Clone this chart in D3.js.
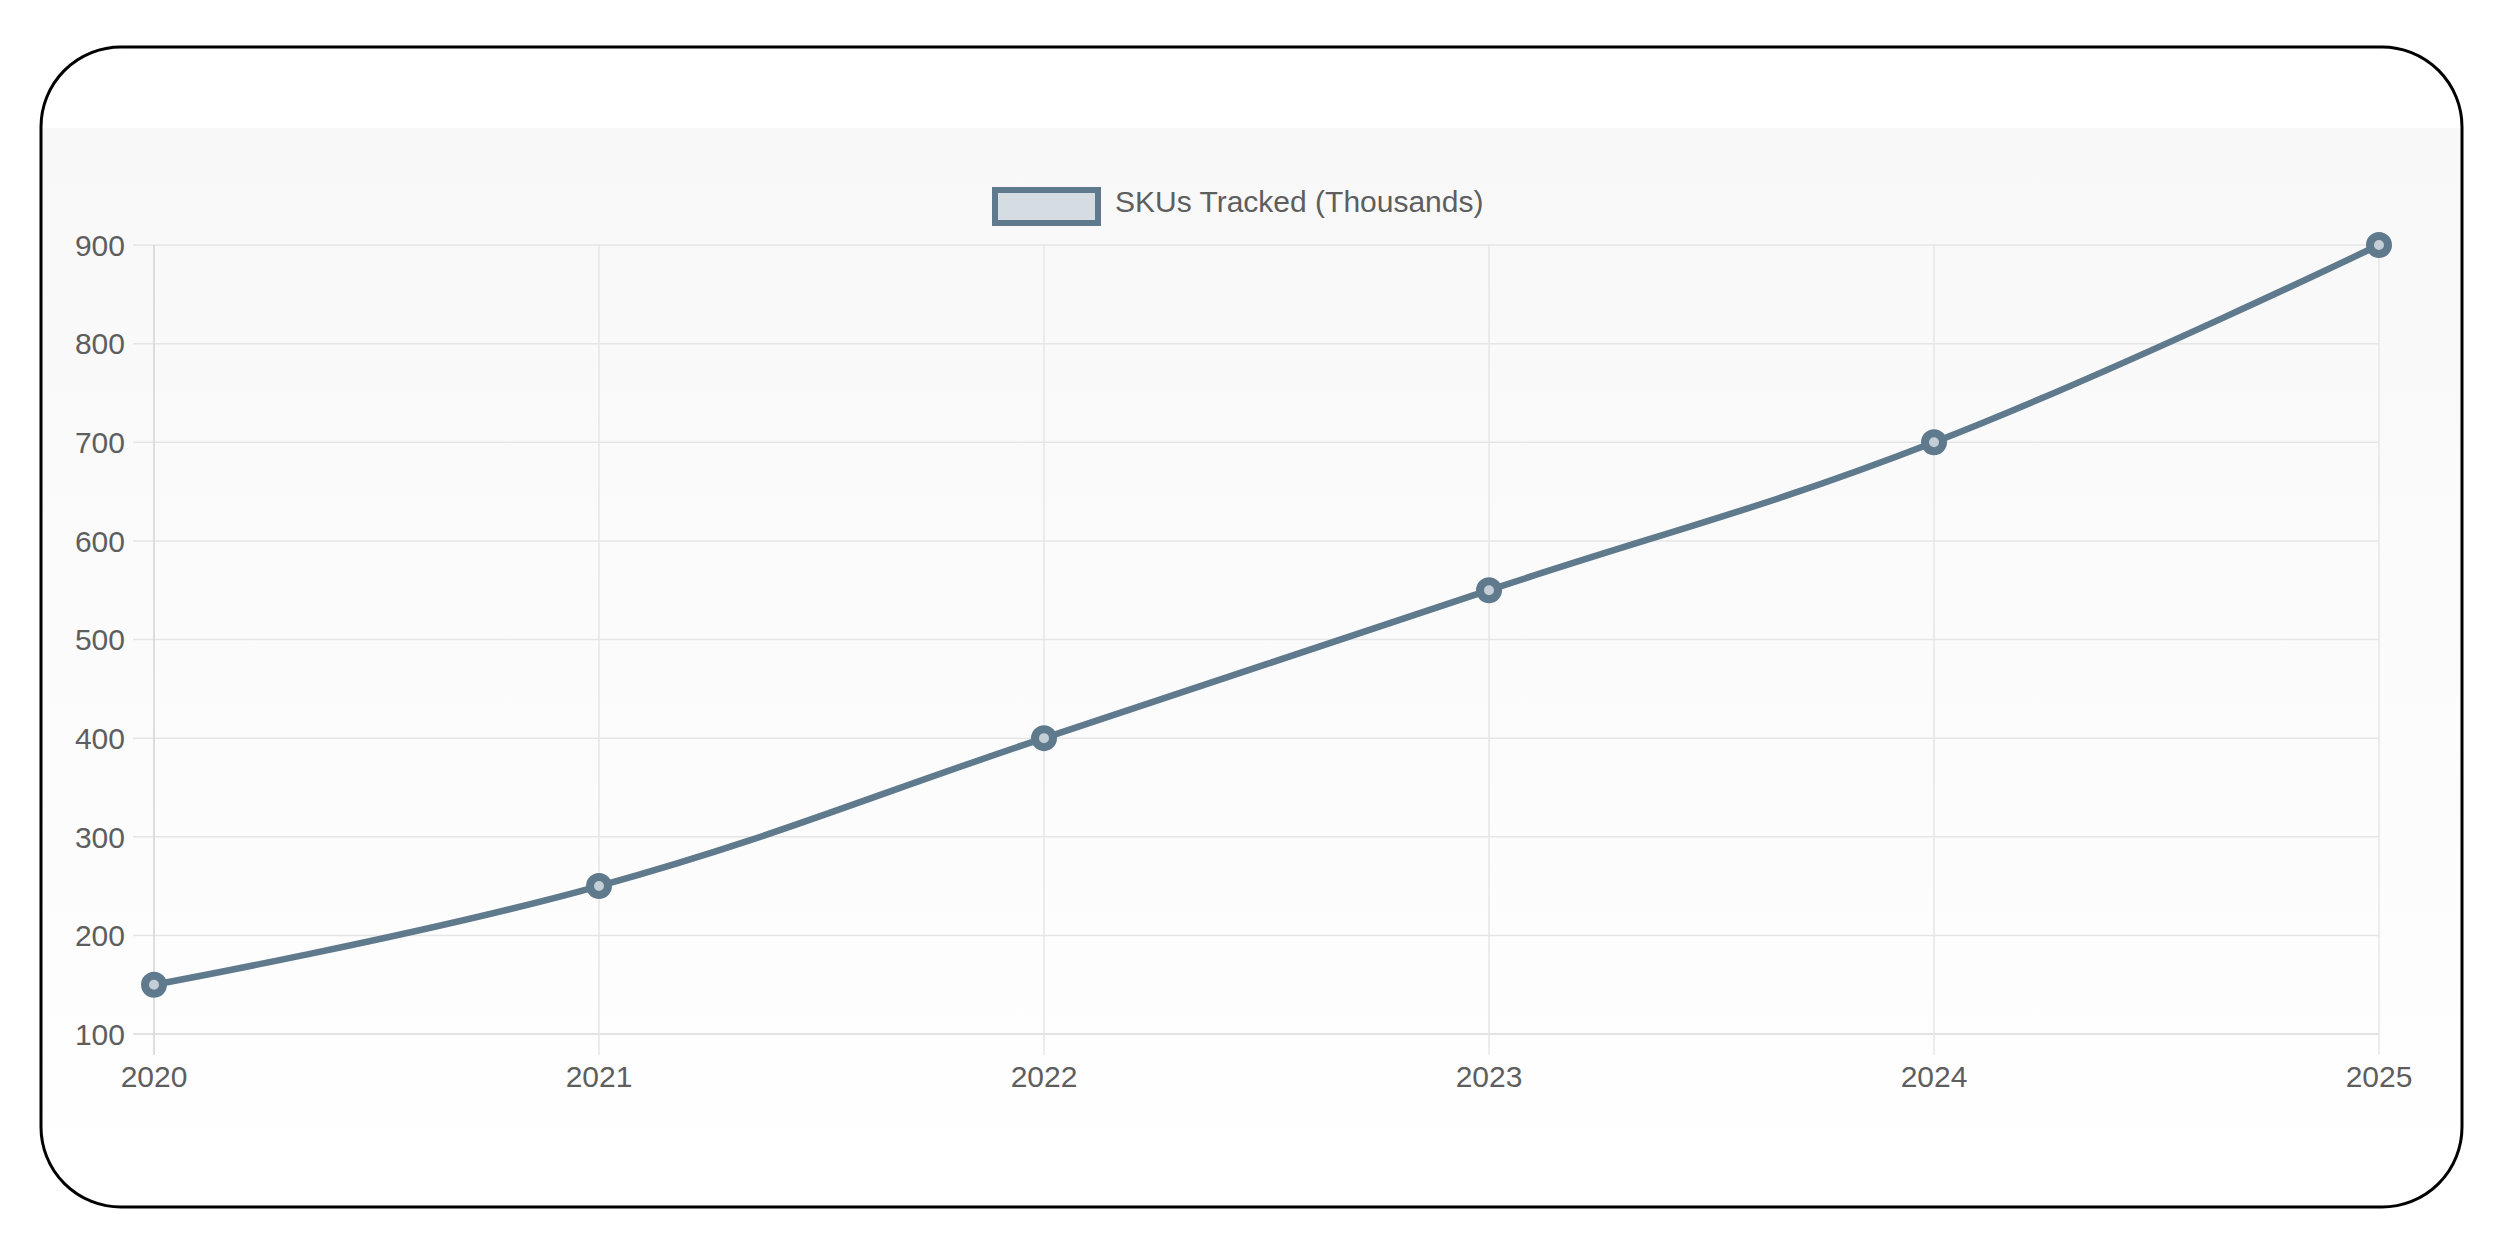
<!DOCTYPE html>
<html>
<head>
<meta charset="utf-8">
<script src="https://cdn.jsdelivr.net/npm/d3@7"></script>
<style>
  html, body { margin: 0; padding: 0; background: #ffffff; }
  svg { display: block; }
</style>
</head>
<body>
<script>
// ---- data ----
const years = ["2020", "2021", "2022", "2023", "2024", "2025"];
const skus = [150, 250, 400, 550, 700, 900];
const yTicks = [100, 200, 300, 400, 500, 600, 700, 800, 900];
const seriesName = "SKUs Tracked (Thousands)";

// ---- layout ----
const W = 2497, H = 1240;
const plot = { left: 154, right: 2379, top: 245, bottom: 1034 };
const col = "#5f7a8d";
const font = "'Liberation Sans', Arial, Helvetica, sans-serif";

const svg = d3.select("body").append("svg").attr("width", W).attr("height", H);

const defs = svg.append("defs");
const grad = defs.append("linearGradient").attr("id", "bg").attr("x1", 0).attr("y1", 0).attr("x2", 0).attr("y2", 1);
grad.append("stop").attr("offset", "0%").attr("stop-color", "#f8f8f8");
grad.append("stop").attr("offset", "100%").attr("stop-color", "#fefefe");
defs.append("clipPath").attr("id", "frameClip").append("rect")
  .attr("x", 41).attr("y", 47).attr("width", 2421).attr("height", 1160).attr("rx", 80).attr("ry", 80);

// panel background
svg.append("rect").attr("clip-path", "url(#frameClip)")
  .attr("x", 41).attr("y", 128).attr("width", 2421).attr("height", 1000)
  .attr("fill", "url(#bg)");

// frame
svg.append("rect")
  .attr("x", 41).attr("y", 47).attr("width", 2421).attr("height", 1160)
  .attr("rx", 80).attr("ry", 80)
  .attr("fill", "none").attr("stroke", "#000").attr("stroke-width", 3);

// scales
const x = d3.scalePoint().domain(years).range([plot.left, plot.right]);
const y = d3.scaleLinear().domain([100, 900]).range([plot.bottom, plot.top]);

// grid: horizontal
const gy = svg.append("g");
gy.selectAll("line").data(yTicks).join("line")
  .attr("x1", plot.left - 21).attr("x2", plot.right)
  .attr("y1", d => y(d)).attr("y2", d => y(d))
  .attr("stroke", d => d === 100 ? "#d9d9d9" : "#e6e6e6").attr("stroke-width", 1.5);

// grid: vertical
const gx = svg.append("g");
gx.selectAll("line").data(years).join("line")
  .attr("x1", d => x(d)).attr("x2", d => x(d))
  .attr("y1", plot.top).attr("y2", plot.bottom + 21)
  .attr("stroke", (d, i) => i === 0 ? "#d4d4d4" : "#e6e6e6").attr("stroke-width", 1.5);

// y tick labels
svg.append("g").selectAll("text").data(yTicks).join("text")
  .attr("x", 125).attr("y", d => y(d))
  .attr("dy", "0.36em")
  .attr("text-anchor", "end")
  .attr("font-family", font).attr("font-size", 30).attr("fill", "#5e5e5e")
  .text(d => d);

// x tick labels
svg.append("g").selectAll("text").data(years).join("text")
  .attr("x", d => x(d)).attr("y", 1087)
  .attr("text-anchor", "middle")
  .attr("font-family", font).attr("font-size", 30).attr("fill", "#5e5e5e")
  .text(d => d);

// line
const pts = years.map((yr, i) => [x(yr), y(skus[i])]);
const line = d3.line().curve(d3.curveCardinal.tension(-0.2));
svg.append("path").attr("d", line(pts))
  .attr("fill", "none").attr("stroke", col).attr("stroke-width", 6.5)
  .attr("stroke-linejoin", "round").attr("stroke-linecap", "round");

// points
svg.append("g").selectAll("circle").data(pts).join("circle")
  .attr("cx", d => d[0]).attr("cy", d => d[1]).attr("r", 9)
  .attr("fill", "#c3ced6").attr("stroke", col).attr("stroke-width", 8);

// legend
const leg = svg.append("g");
leg.append("rect").attr("x", 995).attr("y", 190).attr("width", 103).attr("height", 33)
  .attr("fill", "#d5dde3").attr("stroke", col).attr("stroke-width", 6);
leg.append("text").attr("x", 1115).attr("y", 212)
  .attr("font-family", font).attr("font-size", 30).attr("fill", "#5e5e5e")
  .text(seriesName);
</script>
</body>
</html>
